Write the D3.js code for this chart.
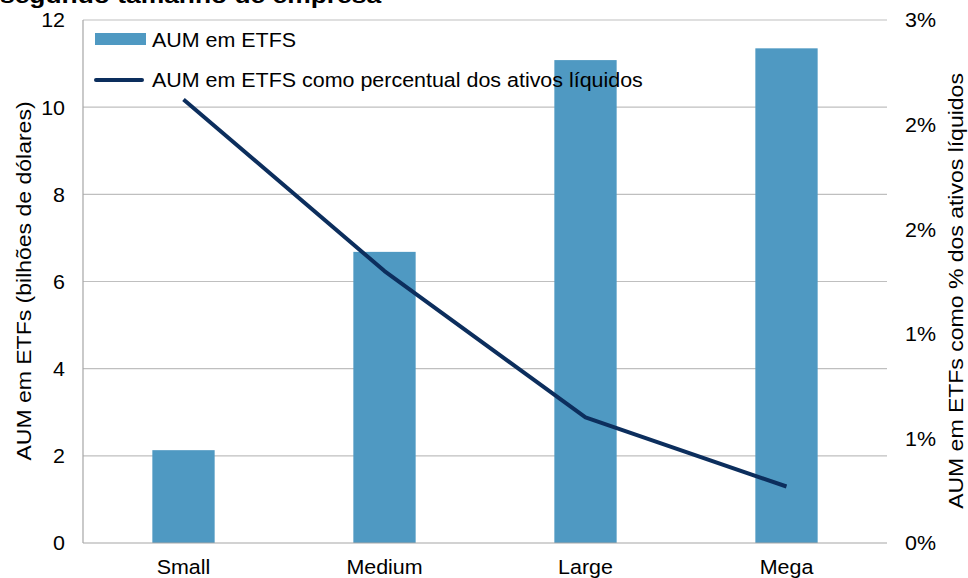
<!DOCTYPE html>
<html><head><meta charset="utf-8">
<script src="https://cdn.jsdelivr.net/npm/d3@7"></script>
<style>
body{margin:0;background:#fff;}
text{font-family:"Liberation Sans",Arial,sans-serif;fill:#000;}
</style></head>
<body><svg id="c" width="968" height="578"></svg>
<script>
const categories = ["Small","Medium","Large","Mega"];
const aumValues = [2.13, 6.68, 11.08, 11.35];
const pctValues = [2.12, 1.30, 0.60, 0.27];
const leftTicks = [0,2,4,6,8,10,12];
const rightTicks = [0,0.5,1,1.5,2,2.5];
const title = "segundo tamanho de empresa";
const seriesNames = ["AUM em ETFS","AUM em ETFS como percentual dos ativos líquidos"];
const leftLabel = "AUM em ETFs (bilhões de dólares)";
const rightLabel = "AUM em ETFs como % dos ativos líquidos";

const SX = 1.1;      // horizontal stretch of the reference's text
const SXT = 1.18;    // stretch for axis titles
const FS = "19.5px";
const svg = d3.select("#c");
const m = {l:83, r:887, t:20, b:543};
const x = d3.scaleBand().domain(categories).range([m.l, m.r]);
const yL = d3.scaleLinear().domain([0,12]).range([m.b, m.t]);
const yR = d3.scaleLinear().domain([0,2.5]).range([m.b, m.t]);
const barW = x.bandwidth()*0.31;

// gridlines
svg.append("g").selectAll("line").data(leftTicks.filter(d=>d>0)).join("line")
  .attr("x1", m.l).attr("x2", m.r).attr("y1", d=>yL(d)).attr("y2", d=>yL(d))
  .attr("stroke","#bfbfbf").attr("stroke-width",1.2);

// bars
svg.append("g").selectAll("rect").data(aumValues).join("rect")
  .attr("x",(d,i)=>x(categories[i])+x.bandwidth()/2-barW/2)
  .attr("width",barW)
  .attr("y",d=>yL(d)).attr("height",d=>yL(0)-yL(d))
  .attr("fill","#4f99c2");

// axes lines
svg.append("line").attr("x1",m.l).attr("x2",m.r).attr("y1",m.b).attr("y2",m.b).attr("stroke","#a6a6a6").attr("stroke-width",1.2);
svg.append("line").attr("x1",m.l).attr("x2",m.l).attr("y1",m.t).attr("y2",m.b).attr("stroke","#a6a6a6").attr("stroke-width",1.2);

// left ticks
const axL = d3.axisLeft(yL).tickValues(leftTicks).tickSize(0).tickPadding(18).tickFormat(d3.format("d"));
const gL = svg.append("g").attr("transform",`translate(${m.l},0)`).call(axL);
gL.select(".domain").remove();
gL.selectAll("text").style("font-size",FS).attr("dy","0.35em")
  .attr("x",-18/SX).attr("transform",`scale(${SX},1)`);

// right ticks
const axR = d3.axisRight(yR).tickValues(rightTicks).tickSize(0).tickPadding(18)
  .tickFormat(d=>Math.round(d+1e-9)+"%");
const gR = svg.append("g").attr("transform",`translate(${m.r},0)`).call(axR);
gR.select(".domain").remove();
gR.selectAll("text").style("font-size",FS).attr("dy","0.35em")
  .attr("x",18/SX).attr("transform",`scale(${SX},1)`);

// x axis
const axB = d3.axisBottom(x).tickSize(0).tickPadding(17);
const gB = svg.append("g").attr("transform",`translate(0,${m.b})`).call(axB);
gB.select(".domain").remove();
gB.selectAll("text").style("font-size",FS).attr("transform",`scale(${SX},1)`);

// line
const line = d3.line().x((d,i)=>x(categories[i])+x.bandwidth()/2).y(d=>yR(d));
svg.append("path").datum(pctValues).attr("d",line).attr("fill","none")
  .attr("stroke","#0c2e5d").attr("stroke-width",4).attr("stroke-linejoin","round");

// legend
svg.append("rect").attr("x",95).attr("y",33).attr("width",51).attr("height",12).attr("fill","#4f99c2");
svg.append("text").attr("transform",`translate(152,47) scale(${SX},1)`).style("font-size",FS).text(seriesNames[0]);
svg.append("line").attr("x1",96).attr("x2",142).attr("y1",80).attr("y2",80).attr("stroke","#0c2e5d").attr("stroke-width",4).attr("stroke-linecap","round");
svg.append("text").attr("transform",`translate(152,87) scale(${SX},1)`).style("font-size",FS).text(seriesNames[1]);

// axis titles
svg.append("text").attr("transform",`translate(31,281) rotate(-90) scale(${SXT},1)`).attr("text-anchor","middle")
  .style("font-size",FS).text(leftLabel);
svg.append("text").attr("transform",`translate(963,291) rotate(-90) scale(${SXT},1)`).attr("text-anchor","middle")
  .style("font-size",FS).text(rightLabel);

// title (cut off at top)
svg.append("text").attr("transform",`translate(0,3) scale(1.2,1)`).style("font-size","22px").style("font-weight","bold").text(title);
</script></body></html>
